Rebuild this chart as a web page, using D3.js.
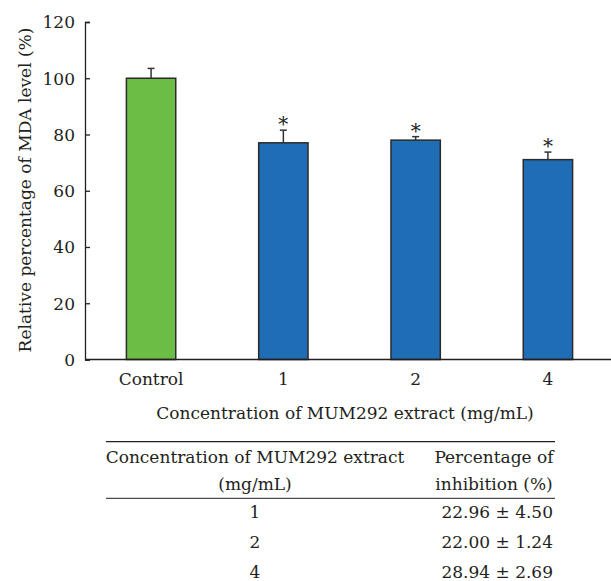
<!DOCTYPE html>
<html><head><meta charset="utf-8">
<script src="https://cdn.jsdelivr.net/npm/d3@7"></script>
<style>body{margin:0;background:#fff}svg{display:block}text{font-family:"DejaVu Serif",serif;fill:#231f20}</style>
</head><body>
<svg id="c" width="611" height="581"></svg>
<script>
const categories = ["Control", "1", "2", "4"];
const values = [100, 77.04, 78.00, 71.06];
const errors = [3.5, 4.50, 1.24, 2.69];
const significant = [false, true, true, true];
const barColors = ["#6cbd45", "#1f6db5", "#1f6db5", "#1f6db5"];
const yTicks = [0, 20, 40, 60, 80, 100, 120];
const tableConc = ["1", "2", "4"];
const tableInhib = ["22.96 ± 4.50", "22.00 ± 1.24", "28.94 ± 2.69"];

const svg = d3.select("#c");
const fs = 17;
const ff = "DejaVu Serif";
const x = d3.scaleBand().domain(categories).range([85, 614]).paddingInner(0.627).paddingOuter(0.313);
const y = d3.scaleLinear().domain([0, 120]).range([359.5, 22]);

// y axis
const ya = svg.append("g").attr("transform", "translate(85,0)")
  .call(d3.axisLeft(y).tickValues(yTicks).tickSize(-5).tickPadding(10));
ya.select(".domain").attr("stroke", "#231f20").attr("stroke-width", 1.3);
ya.selectAll(".tick line").attr("stroke", "#231f20").attr("stroke-width", 1.3);
ya.selectAll("text").attr("font-size", fs).attr("font-family", ff).attr("fill", "#231f20").attr("dy", "0.35em");

// bars
svg.selectAll("rect.bar").data(categories).join("rect")
  .attr("x", d => x(d)).attr("width", x.bandwidth())
  .attr("y", (d, i) => y(values[i])).attr("height", (d, i) => y(0) - y(values[i]))
  .attr("fill", (d, i) => barColors[i]).attr("stroke", "#2b2b2b").attr("stroke-width", 1.5);

// error bars
const eg = svg.append("g").attr("stroke", "#333").attr("stroke-width", 1.5);
categories.forEach((c, i) => {
  const cx = x(c) + x.bandwidth() / 2;
  eg.append("line").attr("x1", cx).attr("x2", cx).attr("y1", y(values[i])).attr("y2", y(values[i] + errors[i]));
  eg.append("line").attr("x1", cx - 3.5).attr("x2", cx + 3.5).attr("y1", y(values[i] + errors[i])).attr("y2", y(values[i] + errors[i]));
  if (significant[i]) {
    svg.append("text").attr("x", cx).attr("y", y(values[i] + errors[i]) + 1)
      .attr("text-anchor", "middle").attr("font-size", 20).text("*");
  }
});

// x axis line
svg.append("line").attr("x1", 85).attr("x2", 611).attr("y1", y(0)).attr("y2", y(0))
  .attr("stroke", "#231f20").attr("stroke-width", 1.3);
// x labels
svg.selectAll("text.xl").data(categories).join("text").attr("class", "xl")
  .attr("x", d => x(d) + x.bandwidth() / 2).attr("y", 385)
  .attr("text-anchor", "middle").attr("font-size", fs).text(d => d);

// axis titles
svg.append("text").attr("x", 345).attr("y", 419).attr("text-anchor", "middle")
  .attr("font-size", fs).text("Concentration of MUM292 extract (mg/mL)");
svg.append("text").attr("transform", "translate(31,190) rotate(-90)").attr("text-anchor", "middle")
  .attr("font-size", fs).text("Relative percentage of MDA level (%)");

// table
const tl = 106, tr = 555, c1 = 255, c2 = 494;
svg.append("line").attr("x1", tl).attr("x2", tr).attr("y1", 441.7).attr("y2", 441.7).attr("stroke", "#231f20").attr("stroke-width", 1.3);
svg.append("line").attr("x1", tl).attr("x2", tr).attr("y1", 498.3).attr("y2", 498.3).attr("stroke", "#231f20").attr("stroke-width", 1);
svg.append("text").attr("x", c1).attr("y", 463).attr("text-anchor", "middle").attr("font-size", fs).text("Concentration of MUM292 extract");
svg.append("text").attr("x", c1).attr("y", 490).attr("text-anchor", "middle").attr("font-size", fs).text("(mg/mL)");
svg.append("text").attr("x", c2).attr("y", 463).attr("text-anchor", "middle").attr("font-size", fs).text("Percentage of");
svg.append("text").attr("x", c2).attr("y", 490).attr("text-anchor", "middle").attr("font-size", fs).text("inhibition (%)");
const rowY = [518, 548, 578];
svg.selectAll("text.r1").data(tableConc).join("text").attr("class", "r1")
  .attr("x", c1).attr("y", (d, i) => rowY[i]).attr("text-anchor", "middle").attr("font-size", fs).text(d => d);
svg.selectAll("text.r2").data(tableInhib).join("text").attr("class", "r2")
  .attr("x", 553).attr("y", (d, i) => rowY[i]).attr("text-anchor", "end").attr("font-size", fs).text(d => d);
</script>
</body></html>
